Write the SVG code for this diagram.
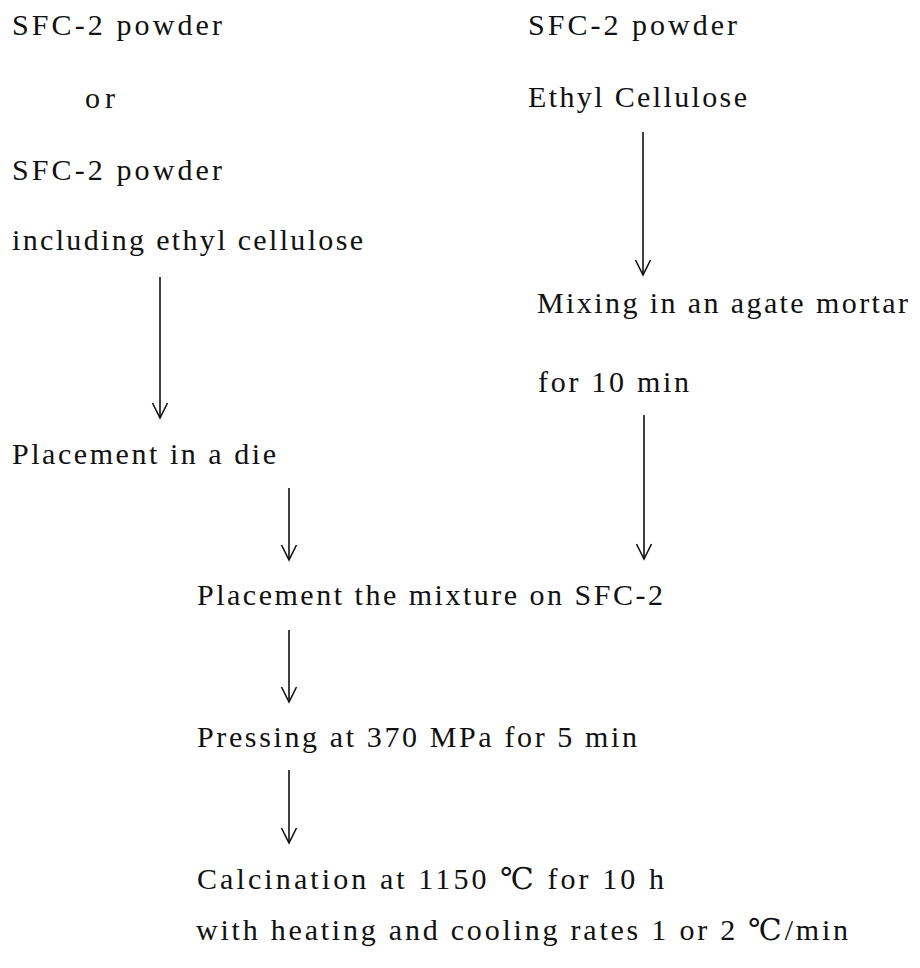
<svg xmlns="http://www.w3.org/2000/svg" width="920" height="968" viewBox="0 0 920 968">
<style>
.t{font-size:30px;fill:#111;}
.c{stroke:#111;stroke-width:1.6;fill:none;}
</style>
<rect width="920" height="968" fill="#fff"/>
<g font-family="Liberation Serif, Times New Roman, DejaVu Serif, serif" class="t">
<g id="n1"><text x="12" y="35" textLength="210" lengthAdjust="spacing">SFC-2 powder</text></g>
<g id="n2"><text x="85" y="108" textLength="30" lengthAdjust="spacing">or</text></g>
<g id="n3"><text x="12" y="180" textLength="210" lengthAdjust="spacing">SFC-2 powder</text>
<text x="12" y="250" textLength="351" lengthAdjust="spacing">including ethyl cellulose</text></g>
<g id="n4"><text x="528" y="35" textLength="209" lengthAdjust="spacing">SFC-2 powder</text>
<text x="528" y="107" textLength="219" lengthAdjust="spacing">Ethyl Cellulose</text></g>
<g id="n5"><text x="537" y="313" textLength="371" lengthAdjust="spacing">Mixing in an agate mortar</text>
<text x="538" y="392" textLength="151" lengthAdjust="spacing">for 10 min</text></g>
<g id="n6"><text x="12" y="464" textLength="264" lengthAdjust="spacing">Placement in a die</text></g>
<g id="n7"><text x="197" y="605" textLength="466" lengthAdjust="spacing">Placement the mixture on SFC-2</text></g>
<g id="n8"><text x="197" y="747" textLength="440" lengthAdjust="spacing">Pressing at 370 MPa for 5 min</text></g>
<g id="n9"><text x="197" y="889" textLength="467" lengthAdjust="spacing">Calcination at 1150  <tspan font-family="DejaVu Serif, Noto Sans CJK JP, serif">℃</tspan>  for 10 h</text>
<text x="196" y="940" textLength="652" lengthAdjust="spacing">with heating and cooling rates 1 or 2  <tspan font-family="DejaVu Serif, Noto Sans CJK JP, serif">℃</tspan>/min</text></g>
</g>
<g id="connectors">
<path class="c" d="M160,277 V418"/>
<path class="c" d="M152.5,403 L160,418 L167.5,403"/>
<path class="c" d="M643,132 V275"/>
<path class="c" d="M635.5,260 L643,275 L650.5,260"/>
<path class="c" d="M644,415 V559"/>
<path class="c" d="M636.5,544 L644,559 L651.5,544"/>
<path class="c" d="M289,488 V560"/>
<path class="c" d="M281.5,545 L289,560 L296.5,545"/>
<path class="c" d="M289,630 V702"/>
<path class="c" d="M281.5,687 L289,702 L296.5,687"/>
<path class="c" d="M289,770 V843"/>
<path class="c" d="M281.5,828 L289,843 L296.5,828"/>
</g>
</svg>
